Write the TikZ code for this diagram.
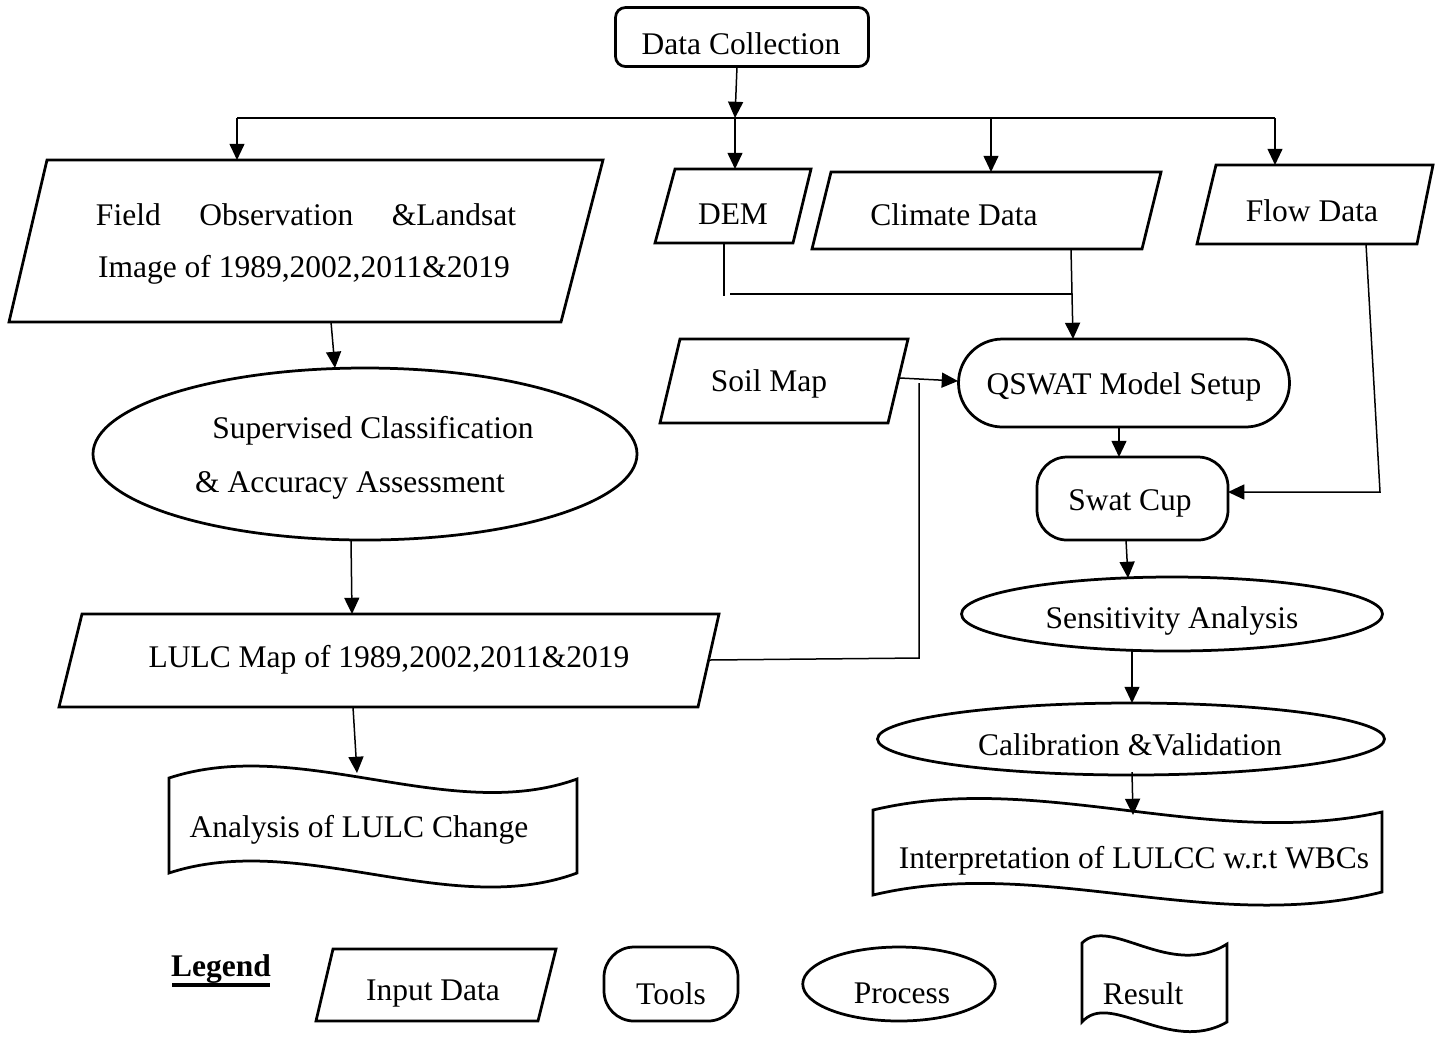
\documentclass[tikz,border=0pt]{standalone}
\usepackage{fontspec}
\setmainfont{Liberation Serif}
\usetikzlibrary{arrows.meta,shapes.geometric}
\begin{document}
\begin{tikzpicture}[x=0.4pt,y=-0.4pt,
  shp/.style={draw,line width=1.1pt},
  con/.style={line width=0.6pt},
  arr/.style={con,-{Triangle[length=6.5pt,width=6pt]}},
  txt/.style={inner sep=0pt,font=\fontsize{12.6}{15}\selectfont,yshift=-1.4pt},
  tool/.style={shp,rounded corners=#1,inner sep=0pt},
  proc/.style={shp,ellipse,inner sep=0pt},
]
\useasboundingbox (0,0) rectangle (1439,1036);

% ---------- shapes ----------
\node[tool=4pt,minimum width=101.2pt,minimum height=23.6pt] (dc) at (742,37) {};
\node[txt] (dct) at (741,40) {Data Collection};

% input data parallelograms
\draw[shp] (47,160) -- (603,160) -- (561,322) -- (9,322) -- cycle;
\node[txt] (field1) at (306,211) {\makebox[168pt][s]{Field\hfill Observation\hfill \&Landsat}};
\node[txt] (field2) at (304,266) {Image of 1989,2002,2011\&2019};

\draw[shp] (675,169) -- (811,169) -- (793,243) -- (655,243) -- cycle;
\node[txt] (dem) at (733,211) {DEM};

\draw[shp] (831,172) -- (1161,172) -- (1142,249) -- (812,249) -- cycle;
\node[txt] (clim) at (954,211) {Climate Data};

\draw[shp] (1216,165) -- (1433,165) -- (1417,244) -- (1197,244) -- cycle;
\node[txt] (flow) at (1312,207) {Flow Data};

\draw[shp] (680,339) -- (908,339) -- (888,423) -- (660,423) -- cycle;
\node[txt] (soil) at (769,380) {Soil Map};

\draw[shp] (82,614) -- (719,614) -- (698,707) -- (59,707) -- cycle;
\node[txt] (lulc) at (389,656) {LULC Map of 1989,2002,2011\&2019};

% processes
\node[proc,minimum width=217.6pt,minimum height=68.8pt] (sup) at (365,454) {};
\node[txt] (sup1) at (373,427) {Supervised Classification};
\node[txt] (sup2) at (350,482) {\& Accuracy Assessment};

\node[proc,minimum width=168.4pt,minimum height=29.6pt] (sens) at (1172,614) {};
\node[txt] (senst) at (1172,617) {Sensitivity Analysis};

\node[proc,minimum width=202.8pt,minimum height=28.8pt] (cal) at (1131,739) {};
\node[txt] (calt) at (1130,741) {Calibration \&Validation};

% tools
\node[tool=17.6pt,minimum width=132.4pt,minimum height=35.2pt] (qswat) at (1124,383) {};
\node[txt] (qswatt) at (1124,383) {QSWAT Model Setup};
\node[tool=12pt,minimum width=76.4pt,minimum height=33.2pt] (swat) at (1132.5,498.5) {};
\node[txt] (swatt) at (1130,500) {Swat Cup};

% results
\draw[shp] (169,778) .. controls (300,735) and (450,825) .. (577,779)
  -- (577,873) .. controls (450,920) and (300,830) .. (169,873) -- cycle;
\node[txt] (anal) at (359,826) {Analysis of LULC Change};

\draw[shp] (873,810) .. controls (1040,770) and (1210,850) .. (1382,812)
  -- (1382,892) .. controls (1210,935) and (1040,855) .. (873,895) -- cycle;
\node[txt] (interp) at (1134,857) {Interpretation of LULCC w.r.t WBCs};

% ---------- connector points ----------
\coordinate (dcb) at (737,66);
\coordinate (j0) at (735,118);
\coordinate (hL) at (237,118);
\coordinate (hR) at (1275,118);
\coordinate (hC) at (991,118);
\coordinate (fieldT) at (237,160);
\coordinate (demT) at (735,169);
\coordinate (climT) at (991,172);
\coordinate (flowT) at (1275,165);
\coordinate (demB) at (724,243);
\coordinate (demE) at (724,296);
\coordinate (mL) at (730,294);
\coordinate (mR) at (1072,294);
\coordinate (climB) at (1071,249);
\coordinate (qsT) at (1073,339);
\coordinate (soilR) at (900,378);
\coordinate (qsL) at (958,381);
\coordinate (lulcR) at (709,660);
\coordinate (lk) at (919,658);
\coordinate (lt) at (919,383);
\coordinate (flowB) at (1366,244);
\coordinate (fk) at (1380,492);
\coordinate (swatR) at (1228,492);
\coordinate (qsB) at (1119,427);
\coordinate (swatT) at (1119,457);
\coordinate (swatB) at (1126,540);
\coordinate (sensT) at (1128,578);
\coordinate (sensB) at (1132,651);
\coordinate (calT) at (1132,703);
\coordinate (calB) at (1132,772);
\coordinate (intT) at (1133,815);
\coordinate (fieldB) at (331,322);
\coordinate (supT) at (335,368);
\coordinate (supB) at (351,540);
\coordinate (lulcT) at (352,614);
\coordinate (lulcB) at (353,707);
\coordinate (analT) at (357,773);

% ---------- connectors ----------
\draw[arr] (dcb) -- (j0);
\draw[con] (hL) -- (hR);
\draw[arr] (hL) -- (fieldT);
\draw[arr] (j0) -- (demT);
\draw[arr] (hC) -- (climT);
\draw[arr] (hR) -- (flowT);
\draw[con] (demB) -- (demE);
\draw[con] (mL) -- (mR);
\draw[arr] (climB) -- (qsT);
\draw[arr] (soilR) -- (qsL);
\draw[con] (lulcR) -- (lk) -- (lt);
\draw[arr] (flowB) -- (fk) -- (swatR);
\draw[arr] (qsB) -- (swatT);
\draw[arr] (swatB) -- (sensT);
\draw[arr] (sensB) -- (calT);
\draw[arr] (calB) -- (intT);
\draw[arr] (fieldB) -- (supT);
\draw[arr] (supB) -- (lulcT);
\draw[arr] (lulcB) -- (analT);

% ---------- legend ----------
\node[txt] (leg) at (221,966) {\textbf{Legend}};
\draw[line width=1.3pt] (172,985) -- (270,985);
\draw[shp] (333,949) -- (556,949) -- (538,1021) -- (316,1021) -- cycle;
\node[txt] (legin) at (433,990) {Input Data};
\node[tool=12pt,minimum width=53.6pt,minimum height=29.6pt] (legtool) at (671,984) {};
\node[txt] (legtoolt) at (671,990) {Tools};
\node[proc,minimum width=77pt,minimum height=29.6pt] (legproc) at (899,984) {};
\node[txt] (legproct) at (902,990) {Process};
\draw[shp] (1082,943) .. controls (1110,915) and (1170,980) .. (1227,944)
  -- (1227,1022) .. controls (1170,1055) and (1110,990) .. (1082,1022) -- cycle;
\node[txt] (legres) at (1143,990) {Result};
\end{tikzpicture}
\end{document}
